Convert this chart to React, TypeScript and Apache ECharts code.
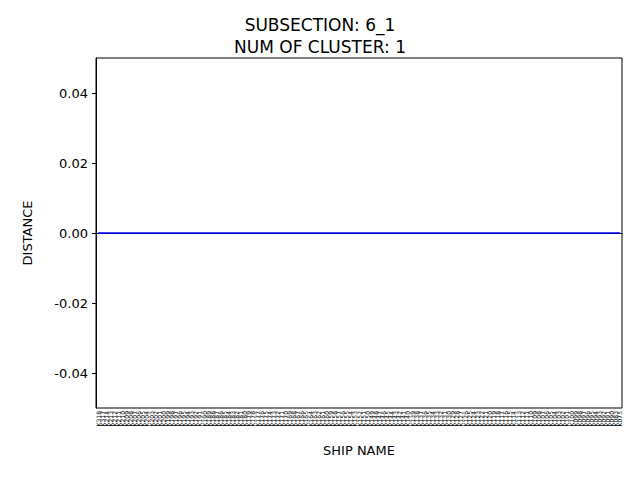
import { useEffect, useRef } from 'react'
import * as echarts from 'echarts'

// leaf labels (too small to read in the reference, approximated)
const ships = [
  'K318', 'K317', 'K214', 'K213', 'K212', 'K211', 'K210', 'K209', 'K208', 'K207',
  'K206', 'K205', 'K204', 'K203', 'K202', 'K201', 'K200', 'K199', 'K198', 'K197',
  'K196', 'K195', 'K194', 'K193', 'K192', 'K191', 'K190', 'K189', 'K188', 'K187',
  'K186', 'K185', 'K184', 'K183', 'K182', 'K181', 'K180', 'K179', 'K178', 'K177',
  'K176', 'K175', 'K174', 'K173', 'K172', 'K171', 'K170', 'K169', 'K168', 'K167',
  'K166', 'K165', 'K164', 'K163', 'K162', 'K161', 'K160', 'K159', 'K158', 'K157',
  'K156', 'K155', 'K154', 'K153', 'K152', 'K151', 'K150', 'K149', 'K148', 'K147',
  'K146', 'K145', 'K144', 'K143', 'K142', 'K141', 'K140', 'K139', 'K138', 'K137',
  'K136', 'K135', 'K134', 'K133', 'K132', 'K131', 'K130', 'K129', 'K128', 'K127',
  'K126', 'K125', 'K124', 'K123', 'K122', 'K121', 'K120', 'K119', 'K118', 'K117',
  'K116', 'K115', 'K114', 'K113', 'K112', 'K111', 'K110', 'K109', 'K108', 'K107',
  'K106', 'K105', 'K104', 'K103', 'K102', 'K101', 'K100', 'K099', 'K098', 'K097',
  'K096', 'K095', 'K094', 'K093', 'K092', 'K091', 'K090', 'K083', 'K075',
]
// all leaves merge at distance 0
const distances = ships.map(() => 0)
const yTicks = [-0.04, -0.02, 0, 0.02, 0.04]

const App = () => {
  const ref = useRef<HTMLDivElement>(null)

  useEffect(() => {
    if (!ref.current) return
    const chart = echarts.init(ref.current, null, { renderer: 'svg' })
    chart.setOption({
      animation: false,
      textStyle: { fontFamily: 'DejaVu Sans' },
      title: {
        text: 'SUBSECTION: 6_1\nNUM OF CLUSTER: 1',
        left: 'center',
        top: 9,
        textStyle: { fontSize: 17, fontWeight: 'normal', color: '#000', lineHeight: 22 },
      },
      grid: { left: 96, right: 18, top: 58, bottom: 72 },
      xAxis: {
        type: 'category',
        data: ships,
        boundaryGap: true,
        name: 'SHIP NAME',
        nameLocation: 'middle',
        nameGap: 36,
        nameTextStyle: { fontSize: 13, color: '#000' },
        axisLine: { lineStyle: { color: '#000' } },
        axisTick: { show: false },
        axisLabel: { interval: 0, rotate: 90, fontSize: 6, color: '#000', margin: 3 },
      },
      yAxis: {
        type: 'value',
        min: -0.05,
        max: 0.05,
        name: 'DISTANCE',
        nameLocation: 'middle',
        nameGap: 62,
        nameTextStyle: { fontSize: 13, color: '#000' },
        splitLine: { show: false },
        axisLine: { show: true, lineStyle: { color: '#000' } },
        axisTick: { show: true, length: 4, customValues: yTicks, lineStyle: { color: '#000' } },
        axisLabel: {
          customValues: yTicks,
          fontSize: 13,
          color: '#000',
          formatter: (v: number) => v.toFixed(2),
        },
      },
      graphic: [
        { type: 'rect', shape: { x: 96, y: 58, width: 526, height: 350 }, style: { fill: 'none', stroke: '#000', lineWidth: 1 }, silent: true },
      ],
      series: [
        {
          type: 'line',
          data: distances,
          symbol: 'none',
          lineStyle: { color: '#0000ff', width: 1.5 },
        },
      ],
    })
    return () => chart.dispose()
  }, [])

  return <div ref={ref} style={{ width: 640, height: 480, margin: -8, background: '#fff' }} />
}

export default App
